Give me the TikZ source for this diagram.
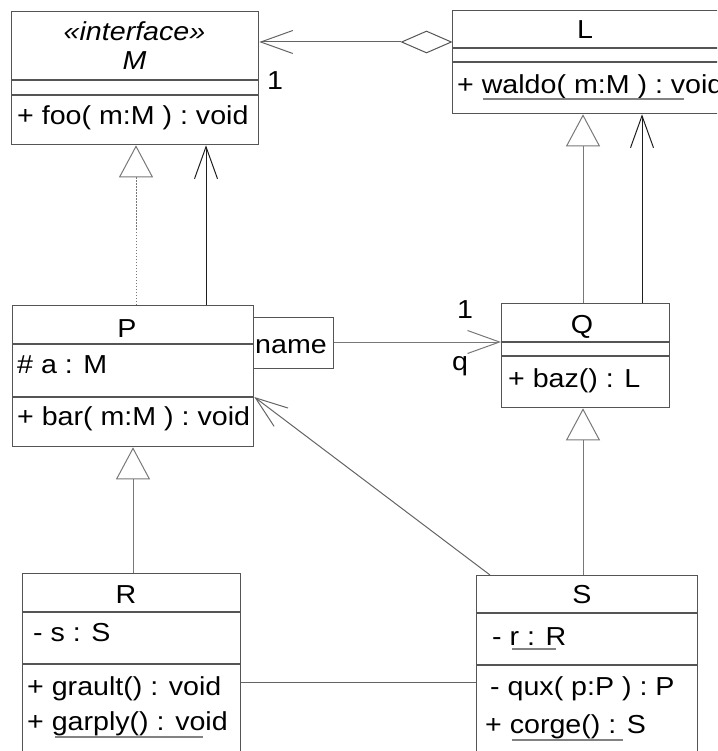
\documentclass[tikz,border=0pt]{standalone}
\usepackage{fontspec}
\setmainfont[FakeStretch=1.1]{Liberation Sans}
\usetikzlibrary{arrows.meta,shapes.geometric}
\definecolor{boxc}{RGB}{85,85,85}
\definecolor{genc}{RGB}{120,120,120}
\definecolor{navc}{RGB}{30,30,30}
\definecolor{linc}{RGB}{100,100,100}
\definecolor{ulc}{RGB}{130,130,130}
\begin{document}
\begin{tikzpicture}[x=1pt,y=-1pt,
  cls/.style={draw=boxc, line width=1.3pt, inner sep=0pt, anchor=north west, fill=white},
  div/.style={draw=boxc, line width=1.3pt},
  txt/.style={inner sep=0pt, anchor=base west, font=\fontsize{26}{30}\selectfont},
  ctxt/.style={inner sep=0pt, anchor=base, font=\fontsize{26}{30}\selectfont},
  gen/.style={draw=genc, line width=1pt, -{Triangle[open, length=32pt, width=34pt]}},
  nav/.style={line width=1pt, -{Straight Barb[length=32pt, width=23pt]}},
  ul/.style={draw=ulc, line width=1.2pt}
]
\useasboundingbox (0,0) rectangle (717,751);
\clip (0,0) rectangle (717,751);

% ---------- classes ----------
\node[cls, minimum width=247pt, minimum height=133pt] (M) at (11,11) {};
\draw[div] (M.west |- 0,80) -- (M.east |- 0,80);
\draw[div] (M.west |- 0,95) -- (M.east |- 0,95);
\node[ctxt, font=\fontsize{26}{30}\selectfont\itshape] (Mst) at (134.5,41) {«interface»};
\node[ctxt, font=\fontsize{26}{30}\selectfont\itshape] (Mn) at (134.5,70) {M};
\node[txt] (Mop) at (17,125) {+ foo( m:M ) : void};

\node[cls, minimum width=320pt, minimum height=103pt] (L) at (452,10) {};
\draw[div] (L.west |- 0,48) -- (L.east |- 0,48);
\draw[div] (L.west |- 0,62) -- (L.east |- 0,62);
\node[ctxt] (Ln) at (585,39) {L};
\node[txt] (Lop) at (457,94) {+ waldo( m:M ) : void};
\draw[ul] (483,99) -- (684,99);

\node[cls, minimum width=241pt, minimum height=141pt] (P) at (12,305) {};
\draw[div] (P.west |- 0,344) -- (P.east |- 0,344);
\draw[div] (P.west |- 0,397) -- (P.east |- 0,397);
\node[ctxt] (Pn) at (127,337) {P};
\node[txt] (Pat) at (17,373) {\# a : M};
\node[txt] (Pop) at (17,425) {+ bar( m:M ) : void};

\node[cls, minimum width=80pt, minimum height=51pt] (qual) at (253,317) {};
\node[txt] (qualt) at (255,353) {name};

\node[cls, minimum width=168pt, minimum height=104pt] (Q) at (501,303) {};
\draw[div] (Q.west |- 0,342) -- (Q.east |- 0,342);
\draw[div] (Q.west |- 0,356) -- (Q.east |- 0,356);
\node[ctxt] (Qn) at (582,333) {Q};
\node[txt] (Qop) at (508,387) {+ baz() : L};

\node[cls, minimum width=218pt, minimum height=220pt] (R) at (22,573) {};
\draw[div] (R.west |- 0,612) -- (R.east |- 0,612);
\draw[div] (R.west |- 0,664) -- (R.east |- 0,664);
\node[ctxt] (Rn) at (126,603) {R};
\node[txt] (Rat) at (33,641) {- s : S};
\node[txt] (Rop1) at (27,695) {+ grault() : void};
\node[txt] (Rop2) at (27,730) {+ garply() : void};
\draw[ul] (55,737) -- (203,737);

\node[cls, minimum width=221pt, minimum height=220pt] (S) at (476,575) {};
\draw[div] (S.west |- 0,613) -- (S.east |- 0,613);
\draw[div] (S.west |- 0,665) -- (S.east |- 0,665);
\node[ctxt] (Sn) at (582,603) {S};
\node[txt] (Sat) at (492,645) {- r : R};
\draw[ul] (512,649) -- (556,649);
\node[txt] (Sop1) at (490,695) {- qux( p:P ) : P};
\node[txt] (Sop2) at (485,733) {+ corge() : S};
\draw[ul] (512,740) -- (623,740);

% ---------- connectors ----------
\node[diamond, draw=boxc, line width=1pt, fill=white, inner sep=0pt,
      minimum width=50pt, minimum height=22pt, anchor=east] (agg) at (L.west |- 0,42) {};
\draw[nav, draw=linc] (agg.west) -- (agg.west -| M.east);
\node[txt] (m1) at (267,90) {1};

\draw[gen, dash pattern=on 1.5pt off 1.5pt] (P.north -| 136,0) -- (M.south -| 136,0);
\draw[nav, draw=navc] (P.north -| 206,0) -- (M.south -| 206,0);

\draw[gen] (Q.north -| 583,0) -- (L.south -| 583,0);
\draw[nav, draw=navc] (Q.north -| 642,0) -- (L.south -| 642,0);

\draw[nav, draw=genc] (qual.east |- 0,342) -- (Q.west |- 0,342);
\node[txt] (q1) at (457,318) {1};
\node[txt] (qq) at (452,370) {q};

\draw[gen] (R.north -| 133,0) -- (P.south -| 133,0);
\draw[gen] (S.north -| 583,0) -- (Q.south -| 583,0);

\draw[nav, draw=linc] ([xshift=14pt]S.north west) -- (P.east |- 0,397);
\draw[draw=linc, line width=1pt] (R.east |- 0,682) -- (S.west |- 0,682);
\end{tikzpicture}
\end{document}
